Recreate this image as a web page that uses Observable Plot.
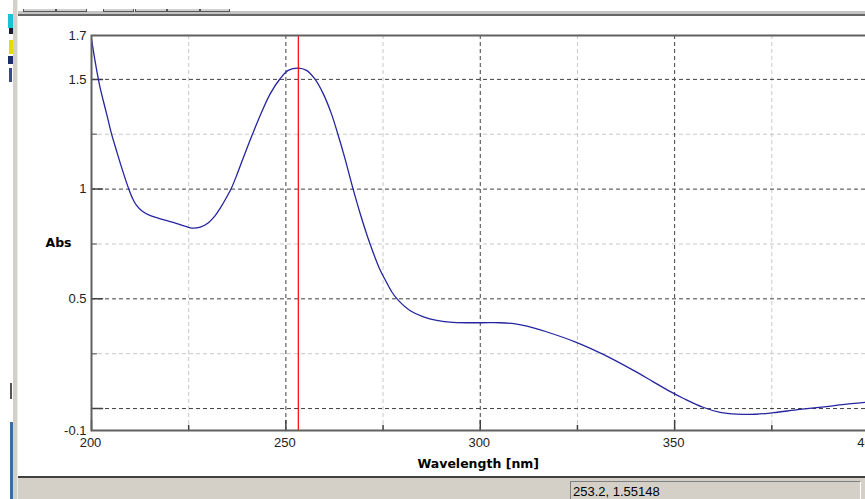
<!DOCTYPE html>
<html>
<head>
<meta charset="utf-8">
<script src="https://cdn.jsdelivr.net/npm/d3@7"></script>
<script src="https://cdn.jsdelivr.net/npm/@observablehq/plot@0.6"></script>
<style>
  html, body { margin: 0; padding: 0; background: #ffffff; }
  #page { position: relative; width: 865px; height: 499px; overflow: hidden; background: #ffffff; }
  #chart { position: absolute; left: 0; top: 0; }
  .chrome { position: absolute; }
  #topband { left: 18px; top: 11px; width: 847px; height: 3px; background: #c4c4c4; border-bottom: 2px solid #666666; }
  .tab { position: absolute; top: 9px; height: 2px; border: 1px solid #555555; border-top: none; background: #d0d0d0; }
  #leftstrip { left: 13px; top: 0; width: 4px; height: 499px; background: #d4d0c8; border-right: 1px solid #ececec; }
  #bluestrip { left: 10px; top: 422px; width: 3px; height: 77px; background: #3a6ea5; }
  #status { left: 18px; top: 476px; width: 847px; height: 21px; background: #d4d0c8; border-top: 2px solid #404040; }
  #statusbox { position: absolute; left: 552px; top: 3px; width: 291px; height: 19px; border-top: 1px solid #808080; border-left: 1px solid #808080; border-right: 1px solid #ffffff; font: 13px "Liberation Sans", Arial, sans-serif; color: #000; line-height: 20px; padding-left: 2px; box-sizing: border-box; }
</style>
</head>
<body>
<div id="page">
  <div id="chart"></div>
  <div class="chrome" id="topband"></div>
  <div class="tab" style="left:23px;width:31px"></div>
  <div class="tab" style="left:56px;width:29px"></div>
  <div class="tab" style="left:103px;width:29px"></div>
  <div class="tab" style="left:135px;width:30px"></div>
  <div class="tab" style="left:167px;width:31px"></div>
  <div class="tab" style="left:200px;width:28px"></div>
  <div class="chrome" id="leftstrip"></div>
  <div class="chrome" style="left:8px;top:14px;width:5px;height:14px;background:#19c3d6"></div>
  <div class="chrome" style="left:9px;top:28px;width:4px;height:6px;background:#1a1a3a"></div>
  <div class="chrome" style="left:9px;top:40px;width:4px;height:14px;background:#e6dc00"></div>
  <div class="chrome" style="left:8px;top:56px;width:5px;height:8px;background:#1b2f6a"></div>
  <div class="chrome" style="left:9px;top:68px;width:3px;height:14px;background:#3a4a8a"></div>
  <div class="chrome" style="left:10px;top:383px;width:2px;height:16px;background:#555555"></div>
  <div class="chrome" id="bluestrip"></div>
  <div class="chrome" id="status"><div id="statusbox">253.2, 1.55148</div></div>
</div>
<script>
// ---- data ----
const wavelength = [200, 201.0, 202.0, 203.0, 204.0, 205.1, 206.6, 207.9, 209.6, 210.5, 211.5, 213.0, 215.0, 217.5, 221.0, 224.0, 226.0, 228.0, 230.0, 231.5, 233.0, 234.5, 236.0, 237.5, 239.2, 241.3, 243.5, 246.0, 248.5, 250.6, 253.2, 255.3, 257.4, 259.6, 261.7, 263.4, 265.1, 267.3, 269.4, 271.5, 274.1, 275.6, 277.3, 279.0, 282.0, 285.4, 288.8, 293.0, 300.0, 305.0, 309.0, 312.0, 317.0, 324.7, 331.5, 339.3, 344.4, 348.8, 352.3, 357.3, 361.7, 366.0, 371.0, 375.4, 382.2, 389.1, 394.3, 399.1, 400];
const absorbance = [1.685, 1.575, 1.48, 1.405, 1.335, 1.255, 1.165, 1.09, 1.0, 0.96, 0.928, 0.9, 0.88, 0.866, 0.848, 0.831, 0.822, 0.827, 0.846, 0.872, 0.91, 0.955, 1.005, 1.07, 1.15, 1.245, 1.34, 1.435, 1.503, 1.541, 1.5515, 1.541, 1.503, 1.435, 1.344, 1.249, 1.146, 1.0, 0.872, 0.758, 0.637, 0.585, 0.53, 0.492, 0.446, 0.418, 0.402, 0.393, 0.391, 0.391, 0.386, 0.376, 0.35, 0.302, 0.248, 0.175, 0.123, 0.078, 0.046, 0.006, -0.017, -0.025, -0.026, -0.019, -0.004, 0.009, 0.02, 0.028, 0.03];

const xDomain = [200, 400];
const yDomain = [-0.1, 1.7];
const xTickLabels = [200, 250, 300, 350, 400];
const xMinor = [225, 275, 325, 375];
const xMajorGrid = [250, 300, 350];
const yTickLabels = [1.7, 1.5, 1, 0.5, -0.1];
const yMajorGrid = [1.5, 1, 0.5, 0];
const yMinor = [1.25, 0.75, 0.25];
const cursorWavelength = [253.2];
const xTitle = "Wavelength [nm]";
const yTitle = "Abs";

const spectrum = wavelength.map((w, i) => ({w, a: absorbance[i]}));

const tickUp = {draw(ctx, l) { ctx.moveTo(0, 0); ctx.lineTo(0, -l); }};
const tickRight = {draw(ctx, l) { ctx.moveTo(0, 0); ctx.lineTo(l, 0); }};

const chart = Plot.plot({
  width: 865,
  height: 476,
  marginLeft: 91,
  marginRight: -3.5,
  marginTop: 35,
  marginBottom: 46,
  x: {domain: xDomain, axis: null},
  y: {domain: yDomain, axis: null},
  style: {background: "#ffffff", fontFamily: "'Liberation Sans', Arial, sans-serif", fontSize: "13px", color: "#222"},
  marks: [
    Plot.ruleY(yMinor, {stroke: "#c8c8c8", strokeDasharray: "4,3"}),
    Plot.ruleX(xMinor, {stroke: "#c8c8c8", strokeDasharray: "4,3"}),
    Plot.ruleY(yMajorGrid, {stroke: "#404040", strokeDasharray: "4,3"}),
    Plot.ruleX(xMajorGrid, {stroke: "#404040", strokeDasharray: "4,3"}),
    Plot.vector(xTickLabels, {x: d => d, frameAnchor: "bottom", anchor: "start", length: 10, shape: tickUp, stroke: "#404040"}),
    Plot.vector(xMinor, {x: d => d, frameAnchor: "bottom", anchor: "start", length: 5, shape: tickUp, stroke: "#404040"}),
    Plot.vector(yMajorGrid, {y: d => d, frameAnchor: "left", anchor: "start", length: 11, shape: tickRight, stroke: "#404040"}),
    Plot.vector(yMinor, {y: d => d, frameAnchor: "left", anchor: "start", length: 5, shape: tickRight, stroke: "#808080"}),
    Plot.line(spectrum, {x: "w", y: "a", stroke: "#2525a0", strokeWidth: 1.3, curve: "catmull-rom"}),
    Plot.ruleX(cursorWavelength, {stroke: "#ff0000", strokeWidth: 1.2}),
    Plot.frame({stroke: "#606060", strokeWidth: 2}),
    Plot.text(yTickLabels, {y: d => d, frameAnchor: "left", dx: -5, textAnchor: "end", text: d => String(d), fill: "#222"}),
    Plot.text(xTickLabels, {x: d => d, frameAnchor: "bottom", dx: -1, dy: 16, text: d => String(d), fill: "#222"}),
    Plot.text([xTitle], {frameAnchor: "bottom", dx: -2, dy: 37, text: d => d, fontWeight: "bold", fontFamily: "'DejaVu Sans', sans-serif", fontSize: 12.5, fill: "#000"}),
    Plot.text([yTitle], {frameAnchor: "left", dx: -46, dy: 10, text: d => d, fontWeight: "bold", fontFamily: "'DejaVu Sans', sans-serif", fontSize: 12.5, fill: "#000"})
  ]
});
document.getElementById("chart").appendChild(chart);
</script>
</body>
</html>
